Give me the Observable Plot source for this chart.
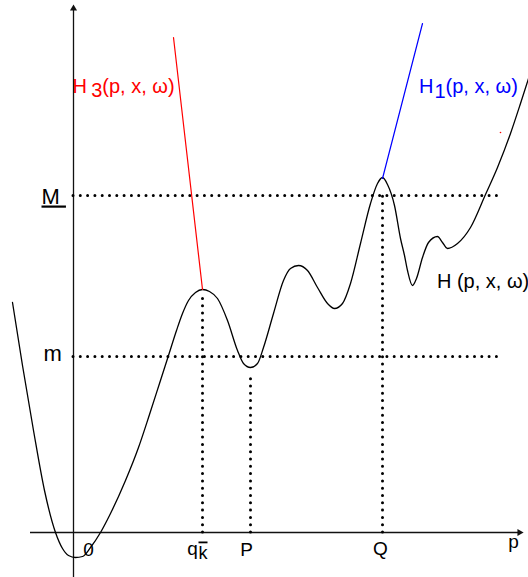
<!DOCTYPE html>
<html><head><meta charset="utf-8">
<script src="https://cdn.jsdelivr.net/npm/d3@7"></script>
<script src="https://cdn.jsdelivr.net/npm/@observablehq/plot@0.6"></script>
<style>html,body{margin:0;padding:0;background:#fff;} svg{display:block}</style>
</head><body><div id="chart"></div>
<script>
// Curve H(p, x, ω): sampled points (p, H) in diagram units
const curveP = [-61,-51,-40,-29,-18,-11,-5,2,9,17,27,37,52,65,76,86,95,103,109,115,122,129,136,144,154,164,170,177,184,190,200,210,217,225,234,244,254,261,269,277,287,297,304,309,314,321,327,331,334,339,343,349,355,364,369,374,384,397,412,424,437,447,455];
const curveH = [230,167,102,42,0,-16,-23,-25,-24,-15,0,19,52,85,118,149,177,202,219,232,240,243,241,234,212,182,169,165,169,185,219,252,264,267,262,245,229,224,229,249,289,329,349,355,348,327,294,277,262,247,254,275,290,296,290,284,289,305,338,365,399,429,454];
// Tangent branches H3 (red) and H1 (blue)
const h3P = [100, 129], h3H = [495, 243];
const h1P = [309, 349], h1H = [354, 509];
// Levels M and m
const levelNames = ["M\u00a0", "m"];
const levelValues = [337, 176];
const levelLabelP = [-32, -30];
const levelLabelH = [329, 172];
// Drop lines at q_k, P, Q
const dropNames = ["q", "P", "Q"];
const dropP = [129, 177, 309];
const dropTop = [234, 157, 337];
// Axis tick labels
const tickText = ["0", "q", "P", "Q", "p"];
const tickP = [15, 119, 173, 307, 440];
const tickH = [-23, -22, -23, -22, -15];
// Function labels
const fnBase = ["H", "H", "H"];
const fnSub = ["3", "1", ""];
const fnArgs = ["(p, x, ω)", "(p, x, ω)", " (p, x, ω)"];
const fnColor = ["#ff0000", "#0000ff", "#000000"];
const fnP = [-1, 345.5, 363.4];
const fnH = [440, 440, 245];

const curve = curveP.map((p, i) => ({p, h: curveH[i]}));
const h3 = h3P.map((p, i) => ({p, h: h3H[i]}));
const h1 = h1P.map((p, i) => ({p, h: h1H[i]}));
const levels = levelNames.map((name, i) => ({name, v: levelValues[i], lp: levelLabelP[i], lh: levelLabelH[i]}));
const drops = dropNames.map((name, i) => ({name, p: dropP[i], top: dropTop[i]}));
const ticks = tickText.map((t, i) => ({t, p: tickP[i], h: tickH[i]}));
const fns = fnBase.map((b, i) => ({label: b + fnSub[i] + fnArgs[i], base: b, sub: fnSub[i], args: fnArgs[i], color: fnColor[i], p: fnP[i], h: fnH[i]}));

const dotted = {stroke: "black", strokeWidth: 3, strokeLinecap: "round", strokeDasharray: "0 7.3"};

const chart = Plot.plot({
  width: 528, height: 577, margin: 0,
  x: {domain: [-73, 455], axis: null},
  y: {domain: [-45, 532], axis: null},
  style: {background: "white", fontFamily: "'Liberation Sans', Arial, sans-serif", overflow: "hidden"},
  marks: [
    // axes
    Plot.ruleY([0], {x1: -43, x2: 446, stroke: "#111", strokeWidth: 1.3}),
    Plot.ruleX([0], {y1: -45, y2: 523, stroke: "#111", strokeWidth: 1.3}),
    Plot.dot([{p: 0, h: 524}], {x: "p", y: "h", symbol: "triangle2", r: 3.4, fill: "#111", stroke: null}),
    Plot.dot([{p: 446, h: 0}], {x: "p", y: "h", symbol: "triangle2", r: 3.4, fill: "#111", stroke: null, rotate: 90}),
    // dotted levels and drops
    Plot.ruleY(levels, {y: "v", x1: 0, x2: 427, ...dotted}),
    Plot.ruleX(drops, {x: "p", y1: 0, y2: "top", ...dotted}),
    // curves
    Plot.line(curve, {x: "p", y: "h", curve: "monotone-x", stroke: "black", strokeWidth: 1.3}),
    Plot.line(h3, {x: "p", y: "h", stroke: "#ff0000", strokeWidth: 1.2}),
    Plot.line(h1, {x: "p", y: "h", stroke: "#0000ff", strokeWidth: 1.2}),
    Plot.dot([{p: 427, h: 400}], {x: "p", y: "h", r: 0.8, fill: "#ff0000", stroke: null}),
    // level labels
    Plot.text(levels, {x: "lp", y: "lh", text: "name", textAnchor: "start", lineAnchor: "bottom", fontSize: 22, fill: "black"}),
    // tick labels
    Plot.text(ticks, {x: "p", y: "h", text: "t", textAnchor: "middle", lineAnchor: "bottom", fontSize: 19, fill: "black"}),
    Plot.text(["k"], {x: 129.5, y: -26, text: d => d, textAnchor: "middle", lineAnchor: "bottom", fontSize: 18, fill: "black"}),
    // function labels
    Plot.text(fns, {x: "p", y: "h", text: "label", fill: "color", textAnchor: "start", lineAnchor: "bottom", fontSize: 20})
  ]
});
const svgNS = "http://www.w3.org/2000/svg";
const subStyle = {"3": {dx: 4.2, dy: 4}, "1": {dx: 1, dy: 5}};
chart.querySelectorAll("text").forEach(t => {
  const s = t.textContent;
  if (s === "k") t.setAttribute("text-decoration", "overline");
  if (s === "M\u00a0") t.setAttribute("text-decoration", "underline");
  const f = fns.find(d => d.label === s && d.sub);
  if (f) {
    const st = subStyle[f.sub];
    t.textContent = f.base;
    const a = document.createElementNS(svgNS, "tspan");
    a.setAttribute("dx", st.dx); a.setAttribute("dy", st.dy); a.textContent = f.sub;
    const b = document.createElementNS(svgNS, "tspan");
    b.setAttribute("dy", -st.dy); b.textContent = f.args;
    t.append(a, b);
  }
});
document.getElementById("chart").append(chart);
</script>
</body></html>
